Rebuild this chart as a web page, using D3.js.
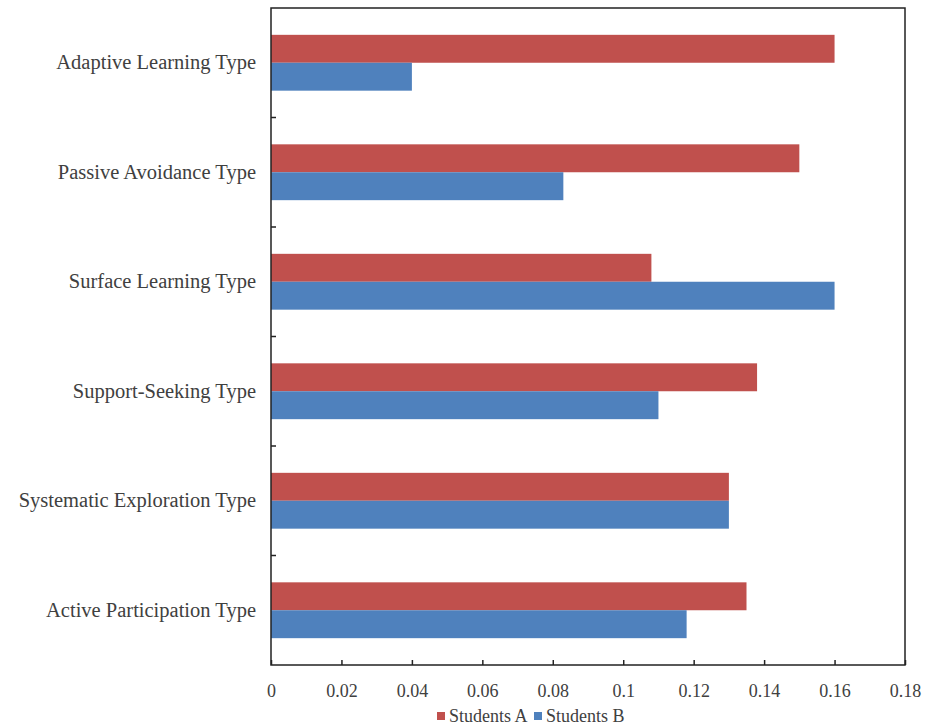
<!DOCTYPE html>
<html lang="en">
<head>
<meta charset="utf-8">
<title>Learning Type Bar Chart</title>
<style>
  body { margin: 0; background: #fff; }
  text { font-family: "Liberation Serif", "Times New Roman", serif; fill: #404040; }
</style>
</head>
<body>
<svg width="932" height="727"></svg>
<script src="https://d3js.org/d3.v7.min.js"></script>
<script>
// categories listed top to bottom
var categories = ["Adaptive Learning Type", "Passive Avoidance Type", "Surface Learning Type",
                  "Support-Seeking Type", "Systematic Exploration Type", "Active Participation Type"];
var studentsA = [0.16, 0.15, 0.108, 0.138, 0.13, 0.135];
var studentsB = [0.04, 0.083, 0.16, 0.11, 0.13, 0.118];
var seriesNames = ["Students A", "Students B"];
var seriesColors = ["#C0504D", "#4F81BD"];
var xTicks = [0, 0.02, 0.04, 0.06, 0.08, 0.1, 0.12, 0.14, 0.16, 0.18];

var svg = d3.select("svg");
// plot box (note: "top" is taken by window.top, so use other names)
var plotLeft = 271, plotRight = 905, plotTop = 8, plotBottom = 665;

var x = d3.scaleLinear().domain([0, 0.18]).range([plotLeft, plotRight]);
var y = d3.scaleBand().domain(categories).range([plotTop, plotBottom]).paddingInner(0.49).paddingOuter(0.245);
var ySub = d3.scaleBand().domain(seriesNames).range([0, y.bandwidth()]);

var rows = categories.map(function(c, i) {
  return { cat: c, vals: [studentsA[i], studentsB[i]] };
});

// bars
var g = svg.append("g");
rows.forEach(function(r) {
  r.vals.forEach(function(v, j) {
    g.append("rect")
      .attr("x", x(0))
      .attr("y", y(r.cat) + ySub(seriesNames[j]))
      .attr("width", x(v) - x(0))
      .attr("height", ySub.bandwidth())
      .attr("fill", seriesColors[j]);
  });
});

// frame
svg.append("rect")
  .attr("x", plotLeft).attr("y", plotTop)
  .attr("width", plotRight - plotLeft).attr("height", plotBottom - plotTop)
  .attr("fill", "none").attr("stroke", "#222").attr("stroke-width", 1.5);

// x axis, ticks pointing inward
var xAxis = svg.append("g")
  .attr("transform", "translate(0," + plotBottom + ")")
  .call(d3.axisBottom(x).tickValues(xTicks).tickSizeInner(-5).tickSizeOuter(0).tickPadding(19)
        .tickFormat(function(d) { return String(d); }));
xAxis.select(".domain").remove();
xAxis.selectAll("line").attr("stroke", "#222").attr("stroke-width", 1.5);
xAxis.selectAll("text").style("font-family", "'Liberation Serif', serif").style("font-size", "18px").attr("fill", "#404040");

// y axis: labels and separator ticks between categories
var yAxis = svg.append("g").attr("transform", "translate(" + plotLeft + ",0)")
  .call(d3.axisLeft(y).tickSize(0).tickPadding(15));
yAxis.select(".domain").remove();
yAxis.selectAll("text").style("font-family", "'Liberation Serif', serif").style("font-size", "20.5px").attr("fill", "#404040");

var step = y.step();
categories.slice(1).forEach(function(c) {
  var yy = y(c) - y.paddingInner() * step / 2;
  svg.append("line")
    .attr("x1", plotLeft).attr("x2", plotLeft + 5)
    .attr("y1", yy).attr("y2", yy)
    .attr("stroke", "#222").attr("stroke-width", 1.5);
});

// legend
var legendX = [437, 534];
seriesNames.forEach(function(n, i) {
  var lg = svg.append("g").attr("transform", "translate(" + legendX[i] + ",716)");
  lg.append("rect").attr("x", 0).attr("y", -4).attr("width", 8).attr("height", 8).attr("fill", seriesColors[i]);
  lg.append("text").attr("x", 12).attr("y", 6).style("font-size", "18px").text(n);
});
</script>
</body>
</html>
